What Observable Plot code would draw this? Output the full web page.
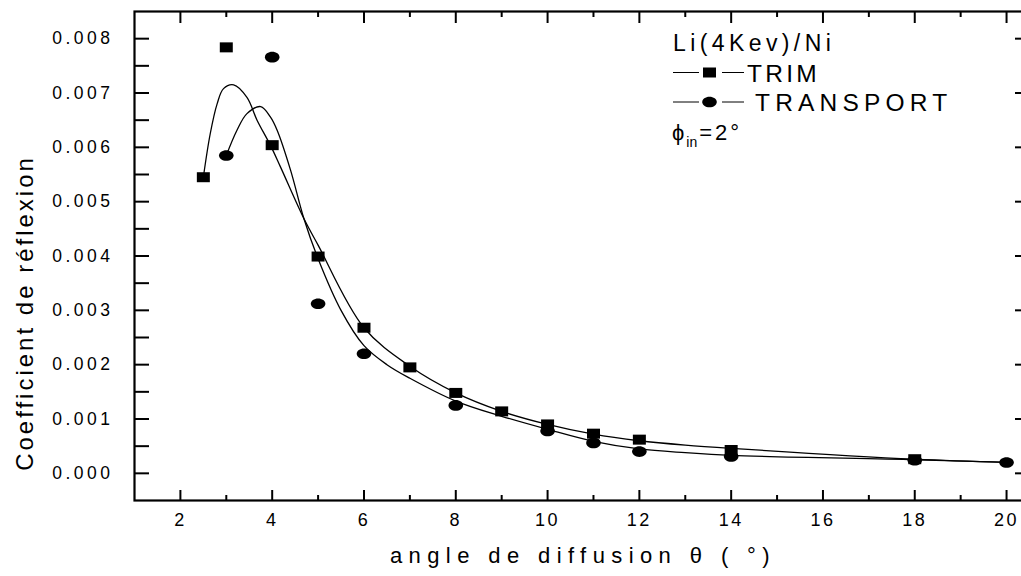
<!DOCTYPE html>
<html><head><meta charset="utf-8">
<script src="https://cdn.jsdelivr.net/npm/d3@7"></script>
<script src="https://cdn.jsdelivr.net/npm/@observablehq/plot@0.6"></script>
<style>
body{margin:0;background:#fff;}
#chart{position:relative;width:1021px;height:576px;overflow:hidden;}
#chart svg{max-width:none;}
svg text{font-family:"Liberation Sans", Arial, sans-serif;}
</style></head><body><div id="chart"></div>
<script>
// measured points
const trimAngles = [2.5, 3, 4, 5, 6, 7, 8, 9, 10, 11, 12, 14, 18];
const trimCoef = [0.00545, 0.00784, 0.00604, 0.00399, 0.00268, 0.00195, 0.00148, 0.00114, 0.00090, 0.00073, 0.00062, 0.00043, 0.00026];
const transportAngles = [3, 4, 5, 6, 8, 10, 11, 12, 14, 18, 20];
const transportCoef = [0.00585, 0.00766, 0.00312, 0.00220, 0.00125, 0.00078, 0.00056, 0.00040, 0.00031, 0.00024, 0.00020];
// fitted curves
const trimFitAngles = [2.5, 2.65, 2.8, 2.94, 3.16, 3.45, 3.67, 3.96, 4.18, 4.69, 5, 6, 7, 8, 9, 10, 11, 12, 13, 14, 18, 20];
const trimFitCoef = [0.00545, 0.00625, 0.00680, 0.00708, 0.00715, 0.00692, 0.00650, 0.00604, 0.00564, 0.00469, 0.00420, 0.00268, 0.00197, 0.00148, 0.00114, 0.00090, 0.00072, 0.00060, 0.00052, 0.00046, 0.00026, 0.00020];
const transportFitAngles = [3, 3.23, 3.45, 3.75, 3.96, 4.11, 4.40, 4.69, 5, 5.5, 6, 6.5, 7, 8, 9, 10, 11, 12, 13, 14, 18, 20];
const transportFitCoef = [0.00585, 0.00631, 0.00662, 0.00675, 0.00656, 0.00631, 0.00558, 0.00469, 0.00395, 0.00300, 0.00235, 0.00200, 0.00175, 0.00133, 0.00105, 0.00081, 0.00059, 0.00045, 0.00038, 0.00033, 0.00025, 0.00020];
// ticks
const xMajorTicks = [2, 4, 6, 8, 10, 12, 14, 16, 18, 20];
const xMinorTicks = [3, 5, 7, 9, 11, 13, 15, 17, 19];
const yMajorTicks = [0, 0.001, 0.002, 0.003, 0.004, 0.005, 0.006, 0.007, 0.008];
const yMinorTicks = [0.0005, 0.0015, 0.0025, 0.0035, 0.0045, 0.0055, 0.0065, 0.0075];
const xTitle = "angle de diffusion θ ( °)";
const yTitle = "Coefficient de réflexion";
const legendTitle = "Li(4Kev)/Ni";
const seriesNames = ["TRIM", "TRANSPORT"];

const trim = trimAngles.map((x, i) => ({x, y: trimCoef[i]}));
const transport = transportAngles.map((x, i) => ({x, y: transportCoef[i]}));
const trimFit = trimFitAngles.map((x, i) => ({x, y: trimFitCoef[i]}));
const transportFit = transportFitAngles.map((x, i) => ({x, y: transportFitCoef[i]}));

const rectSymbol = {draw(ctx) { ctx.rect(-6.5, -5, 13, 10); }};
function ellipsePath(ctx, rx, ry) {
  const k = 0.5523;
  ctx.moveTo(rx, 0);
  ctx.bezierCurveTo(rx, ry * k, rx * k, ry, 0, ry);
  ctx.bezierCurveTo(-rx * k, ry, -rx, ry * k, -rx, 0);
  ctx.bezierCurveTo(-rx, -ry * k, -rx * k, -ry, 0, -ry);
  ctx.bezierCurveTo(rx * k, -ry, rx, -ry * k, rx, 0);
  ctx.closePath();
}
const ellipseSymbol = {draw(ctx) { ellipsePath(ctx, 7.3, 5.3); }};

const blank = () => "";
const chart = Plot.plot({
  width: 1021,
  height: 576,
  marginLeft: 134,
  marginRight: -8,
  marginTop: 11,
  marginBottom: 76,
  x: {domain: [1, 20.5]},
  y: {domain: [-0.0005, 0.0085]},
  style: {fontFamily: "Liberation Sans, Arial, sans-serif", fontSize: "18px", color: "black", background: "white", overflow: "visible"},
  marks: [
    Plot.axisX({ticks: xMajorTicks, anchor: "bottom", tickSize: 0, tickPadding: 13, label: null, fontSize: 18}),
    Plot.axisX({ticks: xMajorTicks, anchor: "bottom", tickSize: -10, tickFormat: blank, label: null, strokeWidth: 2}),
    Plot.axisX({ticks: xMinorTicks, anchor: "bottom", tickSize: -5, tickFormat: blank, label: null, strokeWidth: 2}),
    Plot.axisX({ticks: xMajorTicks, anchor: "top", tickSize: -11, tickFormat: blank, label: null, strokeWidth: 2}),
    Plot.axisX({ticks: xMinorTicks, anchor: "top", tickSize: -5, tickFormat: blank, label: null, strokeWidth: 2}),
    Plot.axisY({ticks: yMajorTicks, anchor: "left", tickSize: 0, tickPadding: 21, tickFormat: d3.format(".3f"), label: null, fontSize: 17.5}),
    Plot.axisY({ticks: yMajorTicks, anchor: "left", tickSize: -15, tickFormat: blank, label: null, strokeWidth: 2}),
    Plot.axisY({ticks: yMinorTicks, anchor: "left", tickSize: -15, tickFormat: blank, label: null, strokeWidth: 2}),
    Plot.axisY({ticks: yMajorTicks, anchor: "right", tickSize: -15, tickFormat: blank, label: null, strokeWidth: 2}),
    Plot.axisY({ticks: yMinorTicks, anchor: "right", tickSize: -8, tickFormat: blank, label: null, strokeWidth: 2}),
    Plot.frame({stroke: "black", strokeWidth: 2.2}),
    Plot.line(trimFit, {x: "x", y: "y", curve: "catmull-rom", stroke: "black", strokeWidth: 1.3}),
    Plot.line(transportFit, {x: "x", y: "y", curve: "catmull-rom", stroke: "black", strokeWidth: 1.3}),
    Plot.dot(trim, {x: "x", y: "y", symbol: rectSymbol, r: 6, fill: "black", stroke: "none"}),
    Plot.dot(transport, {x: "x", y: "y", symbol: ellipseSymbol, r: 6, fill: "black", stroke: "none"})
  ]
});
document.getElementById("chart").appendChild(chart);

const svg = d3.select(chart);
svg.selectAll('g[aria-label="y-axis tick label"] text').style("letter-spacing", "3.5px");
svg.selectAll('g[aria-label="x-axis tick label"] text').style("letter-spacing", "2.5px");

// axis titles
svg.append("text").attr("x", 583).attr("y", 563).attr("text-anchor", "middle")
  .style("font-size", "22px").style("letter-spacing", "6.4px").text(xTitle);
svg.append("text").attr("transform", "translate(33,313) rotate(-90)").attr("text-anchor", "middle")
  .style("font-size", "24px").style("letter-spacing", "3px").text(yTitle);

// legend
const lg = svg.append("g").attr("text-anchor", "start");
lg.append("text").attr("x", 673).attr("y", 50.5).style("font-size", "23px").style("letter-spacing", "4.4px").text(legendTitle);
[[72.5, rectSymbol, seriesNames[0], 747, "3.3px"], [102, ellipseSymbol, seriesNames[1], 755, "5.2px"]].forEach(([cy, sym, name, tx, ls]) => {
  lg.append("line").attr("x1", 673).attr("x2", 699).attr("y1", cy).attr("y2", cy).attr("stroke", "black").attr("stroke-width", 1);
  lg.append("line").attr("x1", 722).attr("x2", 744).attr("y1", cy).attr("y2", cy).attr("stroke", "black").attr("stroke-width", 1);
  const p = d3.path(); sym.draw(p);
  lg.append("path").attr("d", p.toString()).attr("transform", `translate(709.5,${cy})`).attr("fill", "black");
  lg.append("text").attr("x", tx).attr("y", cy + 9).style("font-size", "24.5px").style("letter-spacing", ls).text(name);
});
const phi = lg.append("text").attr("x", 672).attr("y", 140).style("font-size", "22px");
phi.append("tspan").text("ϕ");
phi.append("tspan").attr("dy", 7).attr("dx", 2).style("font-size", "14px").text("in");
phi.append("tspan").attr("dy", -7).attr("dx", 2).style("letter-spacing", "3px").text("=2°");
</script></body></html>
